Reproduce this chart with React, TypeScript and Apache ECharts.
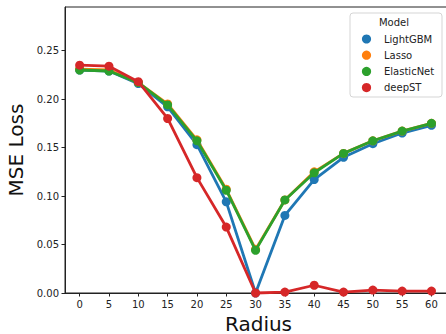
import React, { useEffect, useRef } from "react";
import * as echarts from "echarts";

const radius = [0, 5, 10, 15, 20, 25, 30, 35, 40, 45, 50, 55, 60];
const xTickLabels = ["0", "5", "10", "15", "20", "25", "30", "35", "40", "45", "50", "55", "60"];
const yTicks = [0, 0.05, 0.1, 0.15, 0.2, 0.25];

const lightgbm = [0.230, 0.229, 0.216, 0.192, 0.153, 0.094, 0.000, 0.080, 0.117, 0.140, 0.154, 0.165, 0.173];
const lasso = [0.231, 0.230, 0.217, 0.195, 0.158, 0.107, 0.045, 0.096, 0.125, 0.144, 0.157, 0.167, 0.175];
const elasticnet = [0.230, 0.229, 0.217, 0.194, 0.157, 0.106, 0.044, 0.096, 0.124, 0.144, 0.157, 0.167, 0.175];
const deepst = [0.235, 0.234, 0.218, 0.180, 0.119, 0.068, 0.000, 0.001, 0.008, 0.001, 0.003, 0.002, 0.002];

const seriesNames = ["LightGBM", "Lasso", "ElasticNet", "deepST"];
const seriesValues = [lightgbm, lasso, elasticnet, deepst];
const colors = ["#1f77b4", "#ff7f0e", "#2ca02c", "#d62728"];

const FONT = "DejaVu Sans";

export default function App() {
  const ref = useRef<HTMLDivElement>(null);
  useEffect(() => {
    if (!ref.current) return;
    const chart = echarts.init(ref.current, undefined, { renderer: "svg" });
    const legendItems: any[] = [];
    seriesNames.forEach((name, i) => {
      const cy = 39 + i * 16.2;
      legendItems.push({
        type: "circle",
        shape: { cx: 366.5, cy, r: 4.6 },
        style: { fill: colors[i] },
        z: 101,
      });
      legendItems.push({
        type: "text",
        x: 384,
        y: cy,
        style: {
          text: name,
          fill: "#222",
          font: `10px "${FONT}"`,
          textVerticalAlign: "middle",
          verticalAlign: "middle",
        },
        z: 101,
      });
    });
    chart.setOption({
      animation: false,
      grid: {
        left: 65,
        right: -6,
        top: 7,
        bottom: 41,
        containLabel: false,
        outerBoundsMode: "none",
        show: true,
        borderColor: "#222",
        borderWidth: 1,
        backgroundColor: "transparent",
      },
      xAxis: {
        type: "value",
        min: -2.5,
        max: 63.5,
        name: "Radius",
        nameLocation: "middle",
        nameGap: 16,
        nameTextStyle: { fontFamily: FONT, fontSize: 20, color: "#111", lineHeight: 20 },
        splitLine: { show: false },
        axisLine: { show: true, onZero: false, lineStyle: { color: "#222", width: 1 } },
        axisTick: {
          show: true,
          length: 3.5,
          customValues: radius,
          lineStyle: { color: "#222" },
        },
        axisLabel: {
          customValues: radius,
          formatter: (v: number) => xTickLabels[radius.indexOf(v)] ?? "",
          fontFamily: FONT,
          fontSize: 10,
          color: "#222",
          margin: 6,
        },
      },
      yAxis: {
        type: "value",
        min: 0,
        max: 0.295,
        name: "MSE Loss",
        nameLocation: "middle",
        nameGap: 39,
        nameTextStyle: { fontFamily: FONT, fontSize: 20, color: "#111" },
        splitLine: { show: false },
        axisLine: { show: true, onZero: false, lineStyle: { color: "#222", width: 1 } },
        axisTick: {
          show: true,
          length: 3.5,
          customValues: yTicks,
          lineStyle: { color: "#222" },
        },
        axisLabel: {
          customValues: yTicks,
          formatter: (v: number) => v.toFixed(2),
          fontFamily: FONT,
          fontSize: 10,
          color: "#222",
          margin: 6,
        },
      },
      series: seriesNames.map((name, i) => ({
        name,
        type: "line",
        data: radius.map((r, j) => [r, seriesValues[i][j]]),
        symbol: "circle",
        symbolSize: 9,
        showSymbol: true,
        lineStyle: { width: 2.8, color: colors[i] },
        itemStyle: { color: colors[i] },
        z: 2 + i,
        clip: false,
      })),
      graphic: [
        {
          type: "rect",
          shape: { x: 350, y: 13, width: 92, height: 84, r: 3 },
          style: { fill: "rgba(255,255,255,0.85)", stroke: "#d5d5d5", lineWidth: 1 },
          z: 100,
        },
        {
          type: "text",
          x: 394,
          y: 22.5,
          style: {
            text: "Model",
            fill: "#222",
            font: `10px "${FONT}"`,
            textAlign: "center",
            align: "center",
            textVerticalAlign: "middle",
            verticalAlign: "middle",
          },
          z: 101,
        },
        ...legendItems,
      ],
    });
    return () => chart.dispose();
  }, []);
  return (
    <div
      ref={ref}
      style={{ position: "absolute", left: 0, top: 0, width: 446, height: 334 }}
    />
  );
}
